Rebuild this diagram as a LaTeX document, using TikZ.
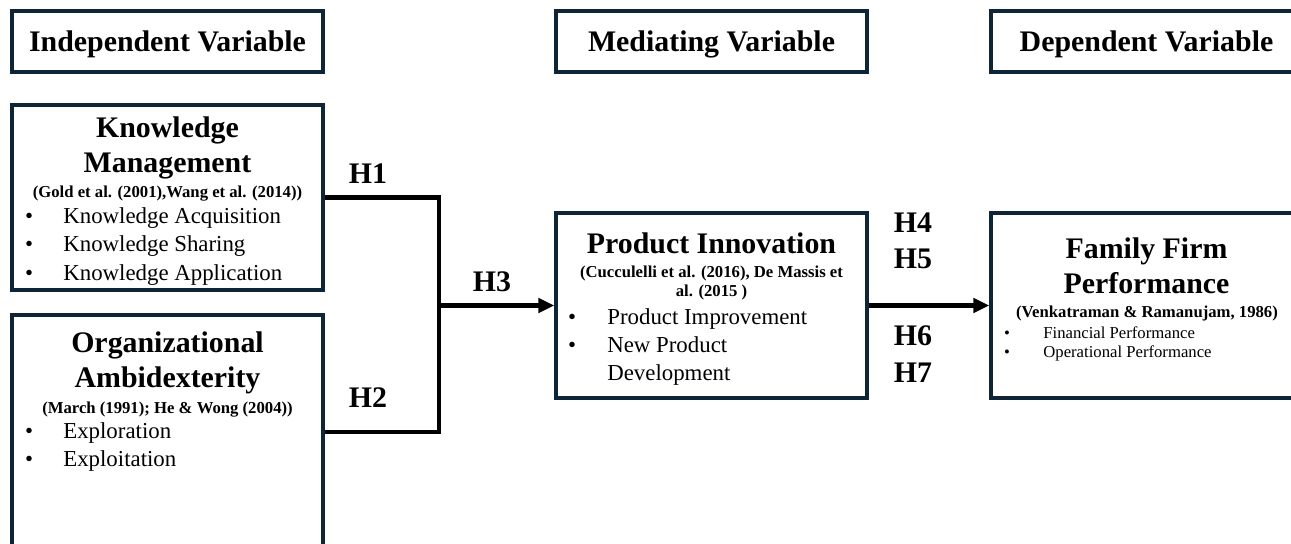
\documentclass[tikz,border=0pt]{standalone}
\usepackage{fontspec}
\setmainfont{Liberation Serif}
\usepackage{tikz}
\usetikzlibrary{arrows.meta}

\definecolor{boxline}{HTML}{0E2537}

\begin{document}
\begin{tikzpicture}[x=0.02cm, y=-0.02cm,
    varbox/.style={draw=boxline, line width=2pt, minimum width=6.22cm, inner sep=0pt},
    headtxt/.style={font=\fontsize{17}{20}\selectfont\bfseries, text depth=0pt},
    title/.style={font=\fontsize{17}{20}\selectfont\bfseries, anchor=base, inner sep=0pt},
    cite/.style={font=\fontsize{9.5}{11}\selectfont\bfseries, anchor=base, inner sep=0pt},
    item/.style={font=\fontsize{13}{15}\selectfont, anchor=base west, inner sep=0pt},
    bul/.style={font=\fontsize{13}{15}\selectfont, anchor=base, inner sep=0pt},
    smallitem/.style={font=\fontsize{9.5}{11}\selectfont, anchor=base west, inner sep=0pt},
    smallbul/.style={font=\fontsize{9.5}{11}\selectfont, anchor=base, inner sep=0pt},
    hyp/.style={font=\fontsize{17}{20}\selectfont\bfseries, anchor=base, inner sep=0pt},
    link/.style={line width=2.3pt, line join=miter},
    >={Triangle[length=9pt, width=8pt]}]
            \useasboundingbox (0,0) rectangle (1291,544);
            \clip (0,0) rectangle (1291,544);

            \node[varbox, minimum height=1.22cm, headtxt] (indep) at (167.5,41.5) {Independent Variable};
            \node[varbox, minimum height=1.22cm, headtxt] (med) at (711.5,41.5) {Mediating Variable};
            \node[varbox, minimum height=1.22cm, headtxt] (dep) at (1146.5,41.5) {Dependent Variable};

            \node[varbox, minimum height=3.7cm] (km) at (167.5,197.5) {};
            \node[varbox, minimum height=4.9cm] (oa) at (167.5,437.5) {};
            \node[varbox, minimum height=3.7cm] (pi) at (711.5,305.5) {};
            \node[varbox, minimum height=3.7cm] (ffp) at (1146.5,305.5) {};

            \node[title] (kmt1) at (167.5,137) {Knowledge};
            \node[title] (kmt2) at (167.5,173) {Management};
            \node[cite] (kmc) at (167.5,197) {(Gold et al. (2001),Wang et al. (2014))};
            \foreach \txt [count=\i] in {Knowledge Acquisition, Knowledge Sharing, Knowledge Application} {
                \node[bul] (kmb\i) at (29,194.5+28.5*\i) {\textbullet};
                \node[item] (kmi\i) at (63,194.5+28.5*\i) {\txt};
            }

            \node[title] (oat1) at (167.5,352) {Organizational};
            \node[title] (oat2) at (167.5,387) {Ambidexterity};
            \node[cite] (oac) at (167.5,413) {(March (1991); He \& Wong (2004))};
            \foreach \txt [count=\i] in {Exploration, Exploitation} {
                \node[bul] (oab\i) at (29,409.5+28.5*\i) {\textbullet};
                \node[item] (oai\i) at (63,409.5+28.5*\i) {\txt};
            }

            \node[title] (pit) at (711.5,253) {Product Innovation};
            \node[cite] (pic1) at (711.5,277) {(Cucculelli et al. (2016), De Massis et};
            \node[cite] (pic2) at (711.5,296) {al. (2015 )};
            \node[bul] (pib1) at (572,324) {\textbullet};
            \node[item] (pii1) at (607,324) {Product Improvement};
            \node[bul] (pib2) at (572,352) {\textbullet};
            \node[item] (pii2) at (607,352) {New Product};
            \node[item] (pii3) at (607,380) {Development};

            \node[title] (ffpt1) at (1146.5,258) {Family Firm};
            \node[title] (ffpt2) at (1146.5,293) {Performance};
            \node[cite] (ffpc) at (1147,317) {(Venkatraman \& Ramanujam, 1986)};
            \foreach \txt [count=\i] in {Financial Performance, Operational Performance} {
                \node[smallbul] (ffpb\i) at (1007,319+19*\i) {\textbullet};
                \node[smallitem] (ffpi\i) at (1043,319+19*\i) {\txt};
            }

            \coordinate (jtop) at (439,197.5);
            \coordinate (jbot) at (439,432);
            \draw[link] (km.east) -- (jtop) -- (jbot) -- (jbot -| oa.east);
            \draw[link, ->] (jtop |- pi.west) -- (pi.west);
            \draw[link, ->] (pi.east) -- (ffp.west);

            \node[hyp] (h1) at (368,183) {H1};
            \node[hyp] (h2) at (368,407) {H2};
            \node[hyp] (h3) at (492,291) {H3};
            \node[hyp] (h4) at (913,232) {H4};
            \node[hyp] (h5) at (913,268) {H5};
            \node[hyp] (h6) at (913,345) {H6};
            \node[hyp] (h7) at (913,382) {H7};
        \end{tikzpicture}
\end{document}
